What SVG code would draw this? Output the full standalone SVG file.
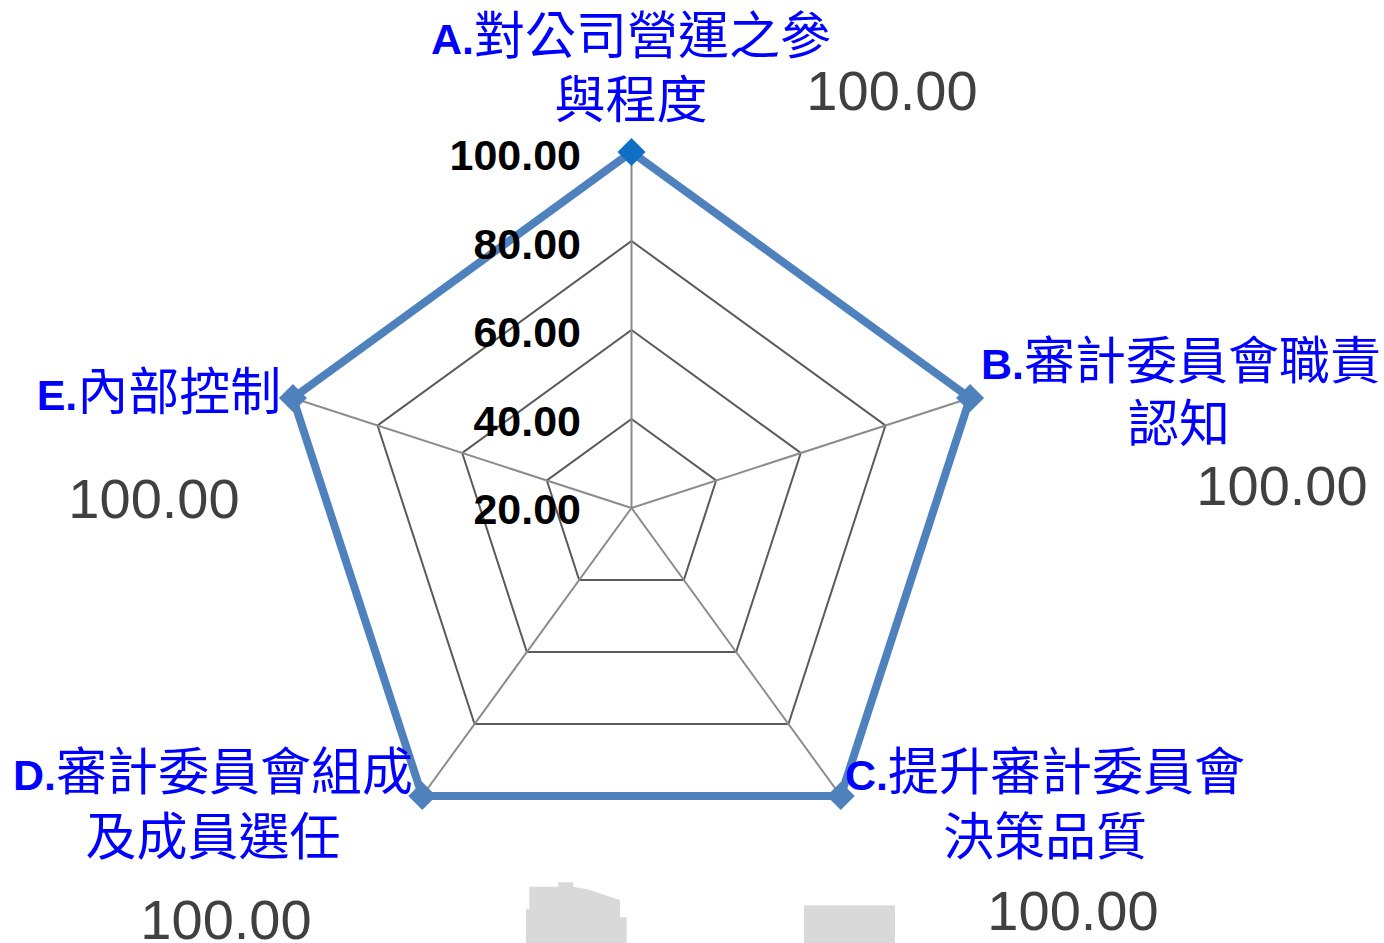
<svg xmlns="http://www.w3.org/2000/svg" width="1384" height="943" viewBox="0 0 1384 943">
<style>
.ring{fill:none;stroke:#5a5a5a;stroke-width:2}
.spoke{stroke:#8c8c8c;stroke-width:2}
.series{fill:none;stroke:#4f81bd;stroke-width:8;stroke-linejoin:miter}
.mk{fill:#4f81bd}
.ax{font-family:"Liberation Sans",Arial,sans-serif;font-weight:bold;font-size:43px;fill:#000;text-anchor:end}
.cat{font-family:"Noto Sans CJK TC","Noto Sans CJK SC",sans-serif;font-size:51px;fill:#0000ff;text-anchor:middle}
.lt{font-family:"Liberation Sans",Arial,sans-serif;font-weight:bold;font-size:43px}
.val{font-family:"Liberation Sans",Arial,sans-serif;font-size:56px;fill:#404040;text-anchor:middle}
.blob{fill:#d9d9d9}
</style>
<rect width="1384" height="943" fill="#fff"/>
<g id="grid">
<polygon class="ring" points="631.5,419 716.14,480.5 683.81,580 579.19,580 546.86,480.5"/>
<polygon class="ring" points="631.5,330 800.79,453 736.13,652 526.87,652 462.21,453"/>
<polygon class="ring" points="631.5,241 885.43,425.49 788.44,724.01 474.56,724.01 377.57,425.49"/>
<polygon class="ring" points="631.5,152 970.08,397.99 840.75,796.01 422.25,796.01 292.92,397.99"/>
<line class="spoke" x1="631.5" y1="508" x2="631.5" y2="152"/>
<line class="spoke" x1="631.5" y1="508" x2="970.08" y2="397.99"/>
<line class="spoke" x1="631.5" y1="508" x2="840.75" y2="796.01"/>
<line class="spoke" x1="631.5" y1="508" x2="422.25" y2="796.01"/>
<line class="spoke" x1="631.5" y1="508" x2="292.92" y2="397.99"/>
</g>
<g id="series">
<polygon class="series" points="631.5,152 970.08,397.99 840.75,796.01 422.25,796.01 292.92,397.99"/>
<polygon fill="#0f6fc6" points="631.5,138 645.5,152 631.5,166 617.5,152"/>
<polygon class="mk" points="970.08,383.99 984.08,397.99 970.08,411.99 956.08,397.99"/>
<polygon class="mk" points="840.75,782.01 854.75,796.01 840.75,810.01 826.75,796.01"/>
<polygon class="mk" points="422.25,782.01 436.25,796.01 422.25,810.01 408.25,796.01"/>
<polygon class="mk" points="292.92,383.99 306.92,397.99 292.92,411.99 278.92,397.99"/>
</g>
<g id="axis-labels">
<text class="ax" x="581" y="170">100.00</text>
<text class="ax" x="581" y="258.5">80.00</text>
<text class="ax" x="581" y="347">60.00</text>
<text class="ax" x="581" y="435.5">40.00</text>
<text class="ax" x="581" y="524">20.00</text>
</g>
<g id="cat-A">
<text class="cat" x="631" y="54"><tspan class="lt">A.</tspan>對公司營運之參</text>
<text class="cat" x="631" y="118">與程度</text>
<text class="val" x="892" y="110">100.00</text>
</g>
<g id="cat-B">
<text class="cat" x="1181" y="379"><tspan class="lt">B.</tspan>審計委員會職責</text>
<text class="cat" x="1179" y="442">認知</text>
<text class="val" x="1282" y="505">100.00</text>
</g>
<g id="cat-C">
<text class="cat" x="1045" y="790"><tspan class="lt">C.</tspan>提升審計委員會</text>
<text class="cat" x="1045" y="855">決策品質</text>
<text class="val" x="1073" y="930">100.00</text>
</g>
<g id="cat-D">
<text class="cat" x="213" y="790"><tspan class="lt">D.</tspan>審計委員會組成</text>
<text class="cat" x="213" y="855">及成員選任</text>
<text class="val" x="226" y="939">100.00</text>
</g>
<g id="cat-E">
<text class="cat" x="159" y="410"><tspan class="lt">E.</tspan>內部控制</text>
<text class="val" x="154" y="518">100.00</text>
</g>
<g id="artifacts">
<polygon class="blob" points="526,943 526,909.3 529.3,909.3 529.3,886.7 558.3,886.7 558.3,882.3 573.3,882.3 573.3,886.7 587.3,889.3 620,900 620,917.3 626.7,917.3 626.7,943"/>
<rect class="blob" x="804" y="905.3" width="91" height="37.7"/>
</g>
</svg>
